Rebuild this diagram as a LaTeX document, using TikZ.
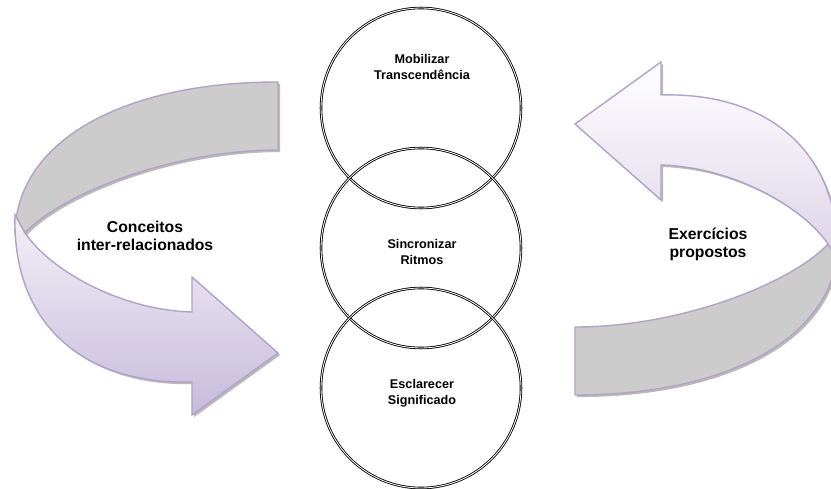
\documentclass[tikz,border=0pt]{standalone}
\usepackage{fontspec}
\setmainfont{Liberation Sans}
\usetikzlibrary{shadows}

\definecolor{ribbonline}{RGB}{179,162,199}
\definecolor{ribbonback}{RGB}{204,204,204}
\definecolor{lilaclight}{RGB}{243,240,247}
\definecolor{lilacdark}{RGB}{198,187,219}
\definecolor{lilacpale}{RGB}{220,211,232}

\begin{document}
\begin{tikzpicture}
		[every node/.style={inner sep=1pt, align=center},
		ring/.style={circle, draw, double, double distance=0.6pt, line width=0.6pt, minimum size=5cm},
		ringtext/.style={font=\fontsize{9}{11.5}\selectfont\bfseries},
		bandtext/.style={font=\fontsize{11.2}{12.8}\selectfont\bfseries},
		backband/.style={draw=ribbonline, line width=1pt, fill=ribbonback,
			drop shadow={shadow xshift=1.5pt, shadow yshift=-1.5pt, opacity=0.6, fill=black!45}},
		frontband/.style={draw=ribbonline, line width=1pt,
			drop shadow={shadow xshift=1.5pt, shadow yshift=-1.5pt, opacity=0.6, fill=black!45}}]
		\useasboundingbox (0,0) rectangle (20.775,12.2);
		
		\draw[backband] (6.95,10.15) .. controls (3.0,10.15) and (0.375,8.625) .. (0.375,6.325)
			-- (0.625,6.375) .. controls (1.5,7.325) and (4.25,8.45) .. (6.95,8.45) -- cycle;
		\draw[frontband, top color=lilaclight, bottom color=lilacdark] (0.375,6.825)
			.. controls (0.3,3.95) and (2.25,2.575) .. (4.8,2.65)
			-- (4.8,1.825) -- (6.95,3.375) -- (4.8,5.275) -- (4.8,4.4)
			.. controls (3.0,4.45) and (1.25,5.45) .. (0.625,6.375) -- cycle;
		
		\draw[backband] (14.375,2.325) .. controls (18.325,2.325) and (20.95,3.85) .. (20.95,6.15)
			-- (20.7,6.1) .. controls (19.825,5.15) and (17.075,4.025) .. (14.375,4.025) -- cycle;
		\draw[frontband, top color=white, bottom color=lilacpale] (20.95,5.65)
			.. controls (21.025,8.525) and (19.075,9.9) .. (16.525,9.825)
			-- (16.525,10.65) -- (14.375,9.1) -- (16.525,7.2) -- (16.525,8.075)
			.. controls (18.325,8.025) and (20.075,7.025) .. (20.7,6.1) -- cycle;
		
		\node[ring] (top) at (10.525,9.5) {};
		\node[ring] (mid) at (10.525,6) {};
		\node[ring] (bot) at (10.525,2.5) {};
		
		\node[ringtext] (toptext) at (10.55,10.525) {Mobilizar\\Transcendência};
		\node[ringtext] (midtext) at (10.55,5.9) {Sincronizar\\Ritmos};
		\node[ringtext] (bottext) at (10.55,2.375) {Esclarecer\\Significado};
		
		\node[bandtext] (lefttext) at (3.625,6.3) {Conceitos\\inter-relacionados};
		\node[bandtext] (righttext) at (17.7,6.1) {Exercícios\\propostos};
		\end{tikzpicture}
\end{document}
